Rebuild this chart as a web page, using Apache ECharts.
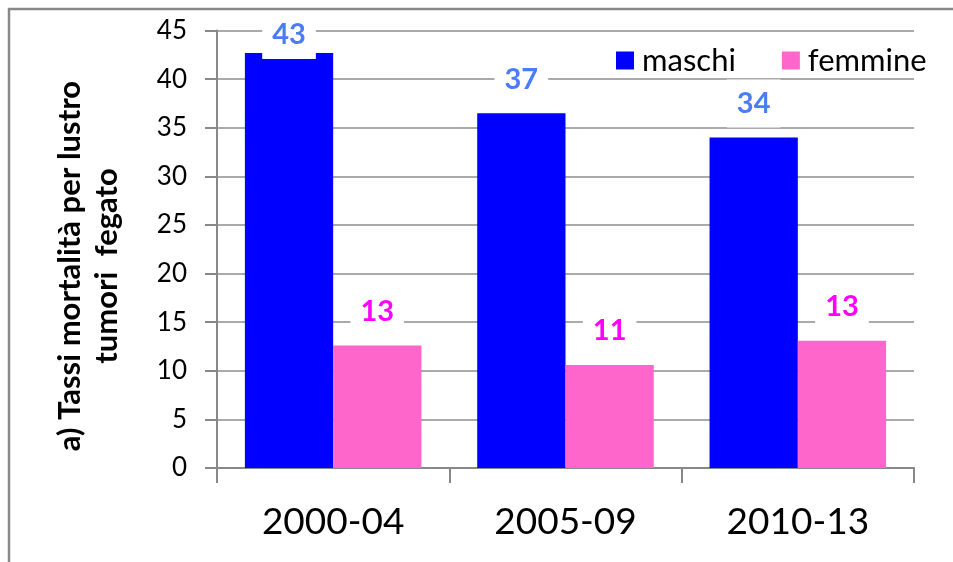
<!DOCTYPE html>
<html>
<head>
<meta charset="utf-8">
<script src="https://cdn.jsdelivr.net/npm/echarts@6/dist/echarts.min.js"></script>
<style>
  html, body { margin: 0; padding: 0; background: #fff; }
  #chart { width: 953px; height: 562px; }
</style>
</head>
<body>
<div id="chart"></div>
<script>
const PERIODS = ['2000-04', '2005-09', '2010-13']
// tassi per lustro
const RATES = {
  maschi:  [42.7, 36.5, 34.0],
  femmine: [12.6, 10.6, 13.1],
}
const FONT = 'Lato, "Open Sans", sans-serif'

const chart = echarts.init(document.getElementById('chart'), null, { renderer: 'canvas' })

function barLabel(color) {
  return {
    show: true, position: 'top', distance: 10,
    color, fontSize: 29, fontWeight: 'bold', fontFamily: FONT,
    lineHeight: 34, padding: [7, 10], backgroundColor: '#fff',
    formatter: p => Math.round(p.value),
  }
}

// la prima etichetta è spinta in basso per restare nell'area del grafico
const maschiData = RATES.maschi.map((v, i) => i === 0 ? { value: v, label: { distance: -6 } } : v)

const option = {
  backgroundColor: '#fff',
  animation: false,
  grid: { left: 217, right: 39, top: 30.6, bottom: 94 },
  legend: {
    left: 611, top: 40, icon: 'rect', itemWidth: 18, itemHeight: 18, itemGap: 46,
    textStyle: { color: '#000', fontSize: 31, fontFamily: FONT, padding: [0, 0, 0, 3] },
    data: ['maschi', 'femmine'],
  },
  xAxis: {
    type: 'category', data: PERIODS,
    axisLine: { lineStyle: { color: '#888', width: 2 } },
    axisTick: { show: true, length: 15, lineStyle: { color: '#888', width: 2 } },
    axisLabel: { color: '#000', fontSize: 37, fontFamily: FONT, margin: 36 },
  },
  yAxis: {
    type: 'value', min: 0, max: 45, interval: 5,
    axisLine: { show: true, lineStyle: { color: '#888', width: 2 } },
    axisTick: { show: true, length: 12, lineStyle: { color: '#888', width: 2 } },
    axisLabel: { color: '#000', fontSize: 26, fontFamily: FONT, margin: 30 },
    splitLine: { lineStyle: { color: '#aaa', width: 2 } },
  },
  series: [
    {
      type: 'bar', name: 'maschi', data: maschiData,
      barGap: '0%', barCategoryGap: '24%',
      itemStyle: { color: '#0000FF' },
      label: barLabel('#4A7CF6'),
    },
    {
      type: 'bar', name: 'femmine', data: RATES.femmine,
      barGap: '0%', barCategoryGap: '24%',
      itemStyle: { color: '#FF66CC' },
      label: barLabel('#FF00FF'),
    },
  ],
  graphic: [
    {
      type: 'rect', silent: true, z: 100,
      shape: { x: 9, y: 9, width: 1100, height: 800 },
      style: { fill: 'none', stroke: '#888', lineWidth: 2.5 },
    },
    {
      type: 'text', silent: true, x: 88, y: 266, rotation: Math.PI / 2,
      style: {
        text: 'a) Tassi mortalità per lustro\ntumori  fegato',
        fill: '#000', font: 'bold 31px ' + FONT, lineHeight: 37,
        align: 'center', verticalAlign: 'middle',
      },
    },
  ],
}
chart.setOption(option)
</script>
</body>
</html>
